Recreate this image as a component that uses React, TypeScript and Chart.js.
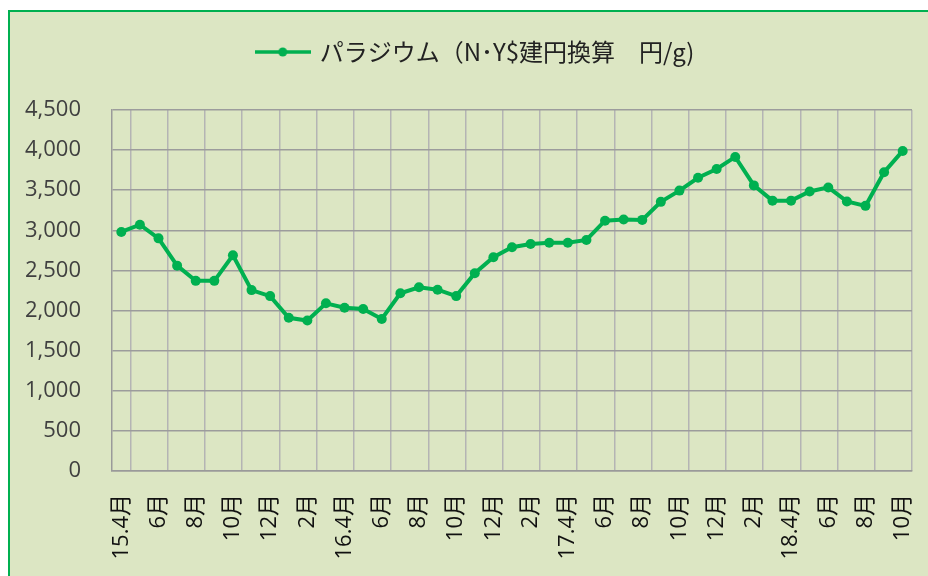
import React, { useEffect, useRef } from "react";
import { Chart, registerables } from "chart.js";

Chart.register(...registerables);

const seriesName = "パラジウム（N･Y$建円換算　円/g)";

const categories = [
  "15.4月", "5月", "6月", "7月", "8月", "9月", "10月", "11月", "12月",
  "1月", "2月", "3月", "16.4月", "5月", "6月", "7月", "8月", "9月", "10月", "11月", "12月",
  "1月", "2月", "3月", "17.4月", "5月", "6月", "7月", "8月", "9月", "10月", "11月", "12月",
  "1月", "2月", "3月", "18.4月", "5月", "6月", "7月", "8月", "9月", "10月",
];

const palladiumYenPerGram = [
  2980, 3070, 2900, 2560, 2370, 2370, 2690, 2255, 2180,
  1910, 1875, 2090, 2035, 2020, 1895, 2215, 2290, 2260, 2180, 2465, 2665,
  2790, 2830, 2845, 2845, 2880, 3120, 3135, 3130, 3355, 3495, 3655, 3765,
  3915, 3560, 3370, 3370, 3485, 3535, 3360, 3305, 3725, 3990,
];

const yMin = 0;
const yMax = 4500;
const yStep = 500;

const GREEN = "#00b050";
const BG = "#dce6c3";

function makeLegendMarker(): HTMLCanvasElement {
  const c = document.createElement("canvas");
  c.width = 56;
  c.height = 12;
  const g = c.getContext("2d")!;
  g.strokeStyle = GREEN;
  g.lineWidth = 3.5;
  g.beginPath();
  g.moveTo(0, 6);
  g.lineTo(56, 6);
  g.stroke();
  g.fillStyle = GREEN;
  g.beginPath();
  g.arc(28, 6, 4.5, 0, Math.PI * 2);
  g.fill();
  return c;
}

const legendSpacing = {
  id: "legendSpacing",
  beforeInit(chart: any) {
    const legend = chart.legend;
    if (!legend) return;
    const orig = legend.fit;
    legend.fit = function () {
      orig.call(this);
      this.height += 36;
    };
  },
  afterLayout(chart: any) {
    const legend = chart.legend;
    if (!legend) return;
    legend.left += 15;
    legend.right += 15;
  },
};

export default function App() {
  const ref = useRef<HTMLCanvasElement | null>(null);

  useEffect(() => {
    if (!ref.current) return;
    const marker = makeLegendMarker();
    const chart = new Chart(ref.current, {
      type: "line",
      data: {
        labels: categories,
        datasets: [
          {
            label: seriesName,
            data: palladiumYenPerGram,
            borderColor: GREEN,
            backgroundColor: GREEN,
            borderWidth: 4,
            pointRadius: 5,
            pointBackgroundColor: GREEN,
            pointBorderColor: GREEN,
            pointBorderWidth: 0,
            tension: 0,
          },
        ],
      },
      plugins: [legendSpacing],
      options: {
        animation: false,
        responsive: false,
        maintainAspectRatio: false,
        layout: { padding: { left: 0, right: 16, top: 4, bottom: 0 } },
        plugins: {
          legend: {
            display: true,
            position: "top",
            labels: {
              usePointStyle: true,
              pointStyleWidth: 50,
              padding: 24,
              color: "#222",
              font: { family: "'Noto Sans CJK JP', 'Open Sans', sans-serif", size: 24 },
              generateLabels: () => [
                {
                  text: seriesName,
                  pointStyle: marker,
                  fillStyle: GREEN,
                  strokeStyle: GREEN,
                  lineWidth: 0,
                  hidden: false,
                  datasetIndex: 0,
                  fontColor: "#222",
                },
              ],
            },
          },
          tooltip: { enabled: false },
        },
        scales: {
          x: {
            type: "category",
            offset: true,
            grid: {
              offset: true,
              drawTicks: false,
              lineWidth: 1.5,
              color: (ctx: any) =>
                ctx.index === undefined || ctx.index % 2 === 1 ? "#b4b4b4" : "rgba(0,0,0,0)",
            },
            border: { display: true, color: "#9a9a9a", width: 1.5 },
            ticks: {
              autoSkip: false,
              minRotation: 90,
              maxRotation: 90,
              padding: 23,
              color: "#111",
              font: { family: "'Open Sans', 'Noto Sans CJK JP', sans-serif", size: 22 },
              callback: (_v: any, i: number) => (i % 2 === 0 ? categories[i] : ""),
            },
            afterFit: (s: any) => {
              s.height = 105;
              s.paddingLeft = 0;
              s.paddingRight = 0;
            },
          },
          y: {
            min: yMin,
            max: yMax,
            grid: { color: "#9c9c9c", lineWidth: 1.5, drawTicks: false },
            border: { display: true, color: "#9a9a9a", width: 1.5 },
            ticks: {
              stepSize: yStep,
              padding: 31,
              color: "#404040",
              font: { family: "'Open Sans', sans-serif", size: 22 },
              callback: (v: any) => Number(v).toLocaleString("en-US"),
            },
            afterFit: (s: any) => {
              s.width = 102;
              s.paddingTop = 0;
              s.paddingBottom = 0;
            },
          },
        },
      },
    });
    return () => chart.destroy();
  }, []);

  return (
    <div
      style={{
        position: "absolute",
        left: 8,
        top: 10,
        width: 940,
        height: 580,
        border: `2px solid ${GREEN}`,
        background: BG,
      }}
    >
      <canvas ref={ref} width={918} height={564} style={{ display: "block" }} />
    </div>
  );
}
